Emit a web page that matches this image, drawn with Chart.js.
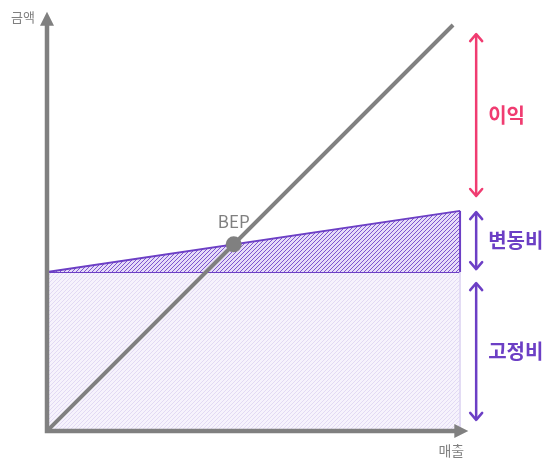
<!DOCTYPE html>
<html>
<head>
<meta charset="utf-8">
<script src="https://cdn.jsdelivr.net/npm/chart.js@4.4.0/dist/chart.umd.min.js"></script>
<style>
  html, body { margin: 0; padding: 0; background: #fff; }
  canvas { display: block; }
</style>
</head>
<body>
<canvas id="bep-chart" width="544" height="459"></canvas>
<script>
// chart values (sales on x, amount on y)
var salesRange = [0, 100];
var fixedCost = 38.5;
var totalCostAtEnd = 53.3;
var revenueEnd = 98.3;
var bepPoint = [45.2, 45.2];
var axisTitles = ['금액', '매출'];
var bracketLabels = ['이익', '변동비', '고정비'];
var bracketFrom = [56.9, 39.2, 2.7];
var bracketTo = [96.1, 53.0, 35.8];
var bracketX = 103.9;
var axisEnd = [102, 101.5];

var gray = '#808080';
var purple = '#6c3fc5';
var pink = '#f03c71';
var font = '"Noto Sans CJK KR", "Noto Sans", sans-serif';

var canvas = document.getElementById('bep-chart');
var ctx = canvas.getContext('2d');

var hatch = function(bg, fg, size, lw) {
  var c = document.createElement('canvas');
  c.width = c.height = size;
  var x = c.getContext('2d');
  x.fillStyle = bg;
  x.fillRect(0, 0, size, size);
  x.strokeStyle = fg;
  x.lineWidth = lw;
  x.beginPath();
  x.moveTo(0, size); x.lineTo(size, 0);
  x.moveTo(-1, 1); x.lineTo(1, -1);
  x.moveTo(size - 1, size + 1); x.lineTo(size + 1, size - 1);
  x.stroke();
  return ctx.createPattern(c, 'repeat');
};

var chevron = function(c, x, y, dir) {
  c.beginPath();
  c.moveTo(x - 6, y + dir * 7);
  c.lineTo(x, y);
  c.lineTo(x + 6, y + dir * 7);
  c.stroke();
};

var decorPlugin = {
  id: 'decor',
  afterDatasetsDraw: function(chart) {
    var c = chart.ctx;
    var xs = chart.scales.x, ys = chart.scales.y;
    var x0 = xs.getPixelForValue(0), y0 = ys.getPixelForValue(0);
    var xEnd = xs.getPixelForValue(axisEnd[0]);
    var yEnd = ys.getPixelForValue(axisEnd[1]);
    c.save();

    // axes with arrow heads
    c.strokeStyle = gray;
    c.fillStyle = gray;
    c.lineWidth = 4.5;
    c.lineCap = 'butt';
    c.beginPath();
    c.moveTo(x0, y0 + 2.25);
    c.lineTo(x0, yEnd + 12);
    c.moveTo(x0 - 2.25, y0);
    c.lineTo(xEnd - 12, y0);
    c.stroke();
    c.beginPath();
    c.moveTo(x0, yEnd);
    c.lineTo(x0 - 7, yEnd + 14);
    c.lineTo(x0 + 7, yEnd + 14);
    c.closePath();
    c.fill();
    c.beginPath();
    c.moveTo(xEnd, y0);
    c.lineTo(xEnd - 14, y0 - 7);
    c.lineTo(xEnd - 14, y0 + 7);
    c.closePath();
    c.fill();

    c.font = '13px ' + font;
    c.textAlign = 'center';
    c.textBaseline = 'middle';
    c.fillText(axisTitles[0], 23, yEnd + 5);
    c.font = '14px ' + font;
    c.fillText(axisTitles[1], xEnd - 17, y0 + 20);

    // BEP label
    c.font = '17px ' + font;
    c.fillText('BEP', xs.getPixelForValue(bepPoint[0]), ys.getPixelForValue(bepPoint[1]) - 23);

    // brackets
    var bx = xs.getPixelForValue(bracketX);
    c.lineWidth = 2.5;
    c.lineCap = 'round';
    c.lineJoin = 'round';
    for (var i = 0; i < bracketLabels.length; i++) {
      var col = i === 0 ? pink : purple;
      var top = ys.getPixelForValue(bracketTo[i]);
      var bot = ys.getPixelForValue(bracketFrom[i]);
      c.strokeStyle = col;
      c.fillStyle = col;
      c.beginPath();
      c.moveTo(bx, top + 1);
      c.lineTo(bx, bot - 1);
      c.stroke();
      chevron(c, bx, top, 1);
      chevron(c, bx, bot, -1);
      c.font = 'bold 20px ' + font;
      c.textAlign = 'left';
      c.fillText(bracketLabels[i], bx + 12, (top + bot) / 2);
    }
    c.restore();
  }
};

new Chart(canvas, {
  type: 'line',
  data: {
    datasets: [{
      label: '고정비',
      data: [{x: salesRange[0], y: fixedCost}, {x: salesRange[1], y: fixedCost}],
      borderColor: purple,
      borderWidth: 2,
      backgroundColor: hatch('#f6f3fc', '#e2daf4', 4, 1),
      fill: 'origin',
      pointRadius: 0,
      order: 6
    }, {
      label: '총비용',
      data: [{x: salesRange[0], y: fixedCost}, {x: salesRange[1], y: totalCostAtEnd}],
      borderColor: purple,
      borderWidth: 2,
      backgroundColor: hatch('#e6dcf8', '#7d55cf', 4, 1),
      fill: '-1',
      pointRadius: 0,
      order: 5
    }, {
      label: 'edge-fixed',
      data: [{x: salesRange[1], y: 0}, {x: salesRange[1], y: fixedCost}],
      borderColor: '#ddd4f2',
      borderWidth: 1.5,
      pointRadius: 0,
      fill: false,
      order: 4
    }, {
      label: 'edge-var',
      data: [{x: salesRange[1], y: fixedCost}, {x: salesRange[1], y: totalCostAtEnd}],
      borderColor: purple,
      borderWidth: 2,
      pointRadius: 0,
      fill: false,
      order: 3
    }, {
      label: '매출',
      data: [{x: 0, y: 0}, {x: revenueEnd, y: revenueEnd}],
      borderColor: gray,
      borderWidth: 4,
      pointRadius: 0,
      fill: false,
      order: 2
    }, {
      label: 'BEP',
      data: [{x: bepPoint[0], y: bepPoint[1]}],
      showLine: false,
      pointRadius: 8,
      pointBackgroundColor: gray,
      pointBorderColor: gray,
      pointBorderWidth: 0,
      order: 1
    }]
  },
  options: {
    responsive: false,
    animation: false,
    devicePixelRatio: 1,
    layout: { padding: { left: 47, top: 12, right: 10, bottom: 28 } },
    plugins: {
      legend: { display: false },
      tooltip: { enabled: false }
    },
    elements: { line: { tension: 0 } },
    scales: {
      x: { type: 'linear', min: 0, max: 117.9, display: false },
      y: { type: 'linear', min: 0, max: 101.45, display: false }
    }
  },
  plugins: [decorPlugin]
});
</script>
</body>
</html>
